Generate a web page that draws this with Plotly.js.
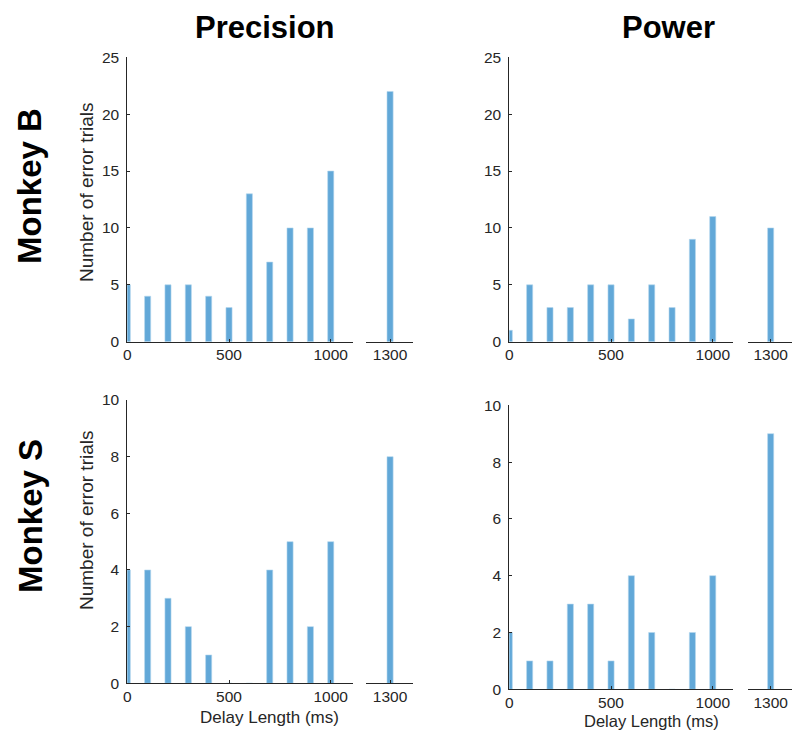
<!DOCTYPE html>
<html>
<head>
<meta charset="utf-8">
<script src="https://cdn.plot.ly/plotly-3.0.1.min.js"></script>
<style>
  html, body { margin: 0; padding: 0; background: #fff; }
  #chart { width: 792px; height: 731px; }
</style>
</head>
<body>
<div id="chart"></div>
<script>
// Delay lengths (ms) of the regular block and the single long delay
const delays = [0, 100, 200, 300, 400, 500, 600, 700, 800, 900, 1000];
const longDelay = [1300];

// Number of error trials per delay
const precisionB = [5, 4, 5, 5, 4, 3, 13, 7, 10, 10, 15];
const precisionB1300 = [22];
const powerB = [1, 5, 3, 3, 5, 5, 2, 5, 3, 9, 11];
const powerB1300 = [10];
const precisionS = [4, 4, 3, 2, 1, 0, 0, 4, 5, 2, 5];
const precisionS1300 = [8];
const powerS = [2, 1, 1, 3, 3, 1, 4, 2, 0, 2, 4];
const powerS1300 = [9];

const mainTicks = [0, 500, 1000];
const longTicks = [1300];

const W = 792, H = 731;
const px = v => v / W;          // horizontal pixel -> paper
const py = v => 1 - v / H;      // vertical pixel -> paper

const barColor = '#62a8d8';
const ink = '#262626';
const font = '"Liberation Sans", Arial, Helvetica, sans-serif';

function bars(x, y, xa, ya) {
  return {
    type: 'bar', x: x, y: y, xaxis: xa, yaxis: ya,
    width: 30,
    marker: { color: barColor, line: { color: '#b5d6ee', width: 0.6 } },
    hoverinfo: 'x+y', showlegend: false
  };
}

const data = [
  bars(delays, precisionB, 'x', 'y'),
  bars(longDelay, precisionB1300, 'x2', 'y'),
  bars(delays, powerB, 'x3', 'y2'),
  bars(longDelay, powerB1300, 'x4', 'y2'),
  bars(delays, precisionS, 'x5', 'y3'),
  bars(longDelay, precisionS1300, 'x6', 'y3'),
  bars(delays, powerS, 'x7', 'y4'),
  bars(longDelay, powerS1300, 'x8', 'y4')
];

const axisBase = {
  showline: true, linecolor: ink, linewidth: 1,
  ticks: 'inside', ticklen: 3, tickcolor: ink, tickwidth: 1,
  showgrid: false, zeroline: false, fixedrange: true,
  tickfont: { family: font, size: 15.5, color: ink }
};

function xMain(domain, range, anchor) {
  return Object.assign({}, axisBase, {
    domain: domain, range: range, anchor: anchor, ticklabelstandoff: -1,
    tickmode: 'array', tickvals: mainTicks, ticktext: mainTicks.map(String)
  });
}
function xLong(domain, range, anchor) {
  return Object.assign({}, axisBase, {
    domain: domain, range: range, anchor: anchor, ticklabelstandoff: -1,
    tickmode: 'array', tickvals: longTicks, ticktext: longTicks.map(String)
  });
}
function yAxis(domain, range, dtick, anchor) {
  return Object.assign({}, axisBase, {
    domain: domain, range: range, anchor: anchor,
    tick0: 0, dtick: dtick, ticklabelstandoff: 4
  });
}

const leftMain = [px(127.3), px(352.7)];
const leftLong = [px(366), px(412.7)];
const rightMain = [px(509.3), px(733.3)];
const rightLong = [px(747.7), 1];

const layout = {
  width: W, height: H,
  margin: { l: 0, r: 0, t: 0, b: 0 },
  paper_bgcolor: '#fff', plot_bgcolor: 'rgba(0,0,0,0)',
  bargap: 0,
  font: { family: font, color: ink },

  xaxis:  xMain(leftMain,  [0, 1108], 'y'),
  xaxis2: xLong(leftLong,  [1182, 1411], 'y'),
  xaxis3: xMain(rightMain, [0, 1101], 'y2'),
  xaxis4: xLong(rightLong, [1187, 1405], 'y2'),
  xaxis5: xMain(leftMain,  [0, 1108], 'y3'),
  xaxis6: xLong(leftLong,  [1182, 1411], 'y3'),
  xaxis7: xMain(rightMain, [0, 1101], 'y4'),
  xaxis8: xLong(rightLong, [1187, 1405], 'y4'),

  yaxis:  yAxis([py(341.7), py(57.3)], [0, 25], 5, 'x'),
  yaxis2: yAxis([py(341.7), py(57.3)], [0, 25], 5, 'x3'),
  yaxis3: yAxis([py(683.3), py(400)], [0, 10], 2, 'x5'),
  yaxis4: yAxis([py(689.3), py(405.3)], [0, 10], 2, 'x7'),

  annotations: [
    { text: '<b>Precision</b>', x: px(265), y: py(27.5), font: { size: 31, color: '#000' } },
    { text: '<b>Power</b>', x: px(668), y: py(27.5), font: { size: 31, color: '#000' } },
    { text: '<b>Monkey B</b>', x: px(30), y: py(186), textangle: -90, font: { size: 33, color: '#000' } },
    { text: '<b>Monkey S</b>', x: px(30), y: py(516), textangle: -90, font: { size: 33, color: '#000' } },
    { text: 'Number of error trials', x: px(86), y: py(192), textangle: -90, font: { size: 19, color: ink } },
    { text: 'Number of error trials', x: px(86), y: py(520), textangle: -90, font: { size: 19, color: ink } },
    { text: 'Delay Length (ms)', x: px(269), y: py(717), font: { size: 17, color: ink } },
    { text: 'Delay Length (ms)', x: px(651), y: py(721), font: { size: 16.5, color: ink } }
  ].map(a => Object.assign({
    xref: 'paper', yref: 'paper', showarrow: false, borderpad: 0,
    xanchor: 'center', yanchor: 'middle'
  }, a, { font: Object.assign({ family: font }, a.font) }))
};

Plotly.newPlot('chart', data, layout, { staticPlot: true, displayModeBar: false });
</script>
</body>
</html>
